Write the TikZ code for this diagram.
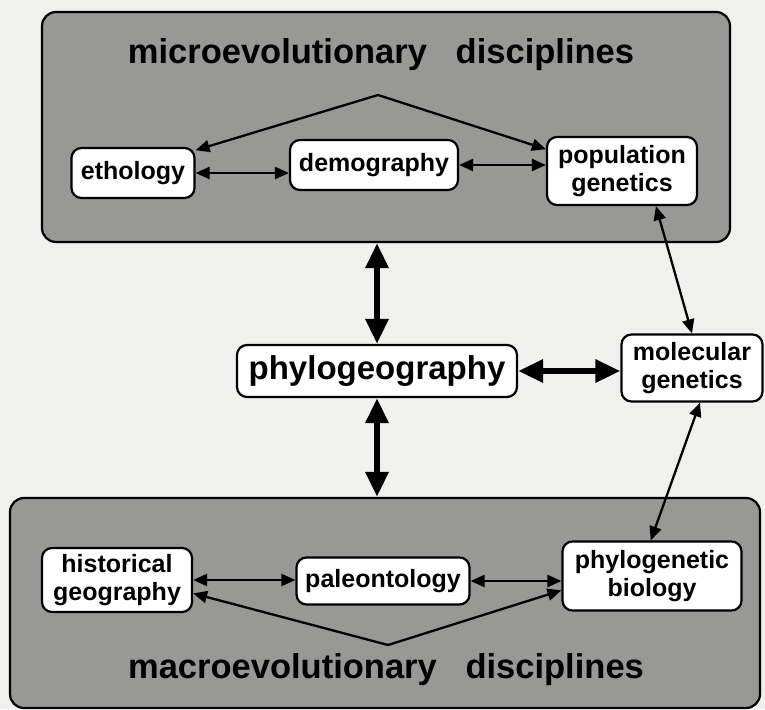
\documentclass[tikz,border=0pt]{standalone}
\usepackage{fontspec}
\setmainfont{Liberation Sans}
\usetikzlibrary{arrows.meta,calc}
\definecolor{panelgray}{RGB}{152,152,150}
\definecolor{paper}{RGB}{240,240,238}
\tikzset{
  panel/.style={draw=black, line width=2.2pt, fill=panelgray, rounded corners=14pt},
  disc/.style={draw=black, line width=2.2pt, fill=white, rounded corners=10pt, align=center,
    inner sep=0pt, font=\bfseries\fontsize{25}{28}\selectfont},
  paneltitle/.style={font=\bfseries\fontsize{34.5}{40}\selectfont},
  thin/.style={line width=2.3pt, {Triangle[length=14pt,width=12pt]}-{Triangle[length=14pt,width=12pt]}},
  thinone/.style={line width=2.3pt, -{Triangle[length=14pt,width=12pt]}},
  thick/.style={line width=6pt, {Triangle[length=25pt,width=22pt]}-{Triangle[length=25pt,width=22pt]}},
}
\begin{document}
\begin{tikzpicture}[x=1pt,y=-1pt]
\useasboundingbox (0,0) rectangle (765,709);
\fill[paper] (0,0) rectangle (765,709);
% panels
\node[panel, minimum width=688pt, minimum height=230pt, inner sep=0pt] (top) at (386,127) {};
\node[panel, minimum width=750pt, minimum height=210pt, inner sep=0pt] (bot) at (385,603) {};
\node[paneltitle] (toptitle) at (381,55) {microevolutionary\ \ \ disciplines};
\node[paneltitle] (bottitle) at (386,670) {macroevolutionary\ \ \ disciplines};
% discipline boxes
\node[disc, minimum width=123pt, minimum height=50pt] (eth) at (133,173) {ethology};
\node[disc, minimum width=168pt, minimum height=50pt] (demo) at (374,165) {demography};
\node[disc, minimum width=150pt, minimum height=68pt] (popgen) at (622,171) {population\\genetics};
\node[disc, minimum width=280pt, minimum height=52pt, font=\bfseries\fontsize{33}{38}\selectfont] (phylogeo) at (377,371) {phylogeography};
\node[disc, minimum width=141pt, minimum height=67pt] (molec) at (692,368) {molecular\\genetics};
\node[disc, minimum width=150pt, minimum height=64pt] (histgeo) at (117,580) {historical\\geography};
\node[disc, minimum width=173pt, minimum height=47pt] (paleo) at (383,581) {paleontology};
\node[disc, minimum width=179pt, minimum height=69pt] (phylobio) at (652,576) {phylogenetic\\biology};
% apex points
\coordinate (topapex) at (378,95);
\coordinate (botapex) at (388,645);
% connectors inside panels
\draw[thinone] (topapex) -- (eth.20);
\draw[thinone] (topapex) -- (popgen.164);
\draw[thinone] (botapex) -- (histgeo.-10);
\draw[thinone] (botapex) -- (phylobio.-171);
\draw[thin] (eth.east) -- (eth.east -| demo.west);
\draw[thin] (demo.east) -- (demo.east -| popgen.west);
\draw[thin] (histgeo.east) -- (histgeo.east -| paleo.west);
\draw[thin] (paleo.east) -- (paleo.east -| phylobio.west);
% central connectors
\draw[thick] (phylogeo.north |- top.south) -- (phylogeo.north);
\draw[thick] (phylogeo.south) -- (phylogeo.south |- bot.north);
\draw[thick] (phylogeo.east) -- (phylogeo.east -| molec.west);
\draw[thin] (popgen.-46) -- (molec.north);
\draw[thin] (molec.-77) -- (phylobio.92);
\end{tikzpicture}
\end{document}
